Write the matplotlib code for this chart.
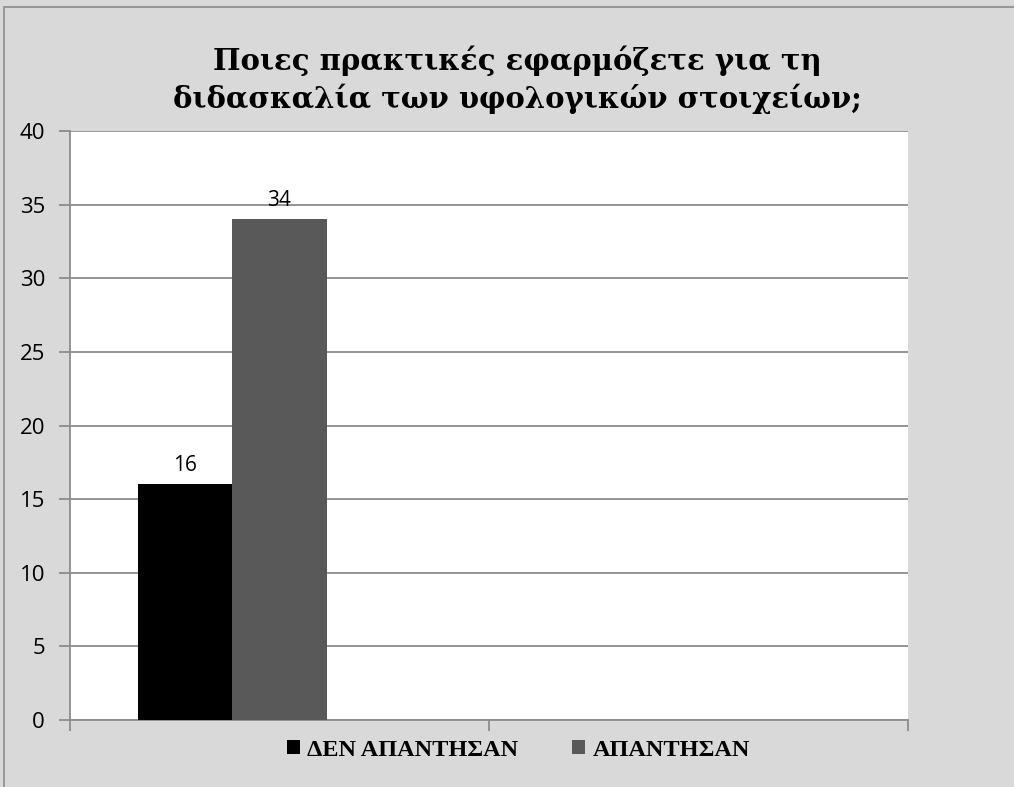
import matplotlib.pyplot as plt
from matplotlib.patches import Rectangle
import numpy as np

# Data
categories = ['', '']
series_names = ['ΔΕΝ ΑΠΑΝΤΗΣΑΝ', 'ΑΠΑΝΤΗΣΑΝ']
not_answered = [16, None]
answered = [34, None]
colors = ['#000000', '#595959']
title = 'Ποιες πρακτικές εφαρμόζετε για τη\nδιδασκαλία των υφολογικών στοιχείων;'

fig = plt.figure(figsize=(10.14, 7.87), dpi=100, facecolor='#d9d9d9')
ax = fig.add_axes([70 / 1014, 1 - 720 / 787, (908 - 70) / 1014, (720 - 131) / 787])
ax.set_facecolor('white')

# outer frame
fig.patches.append(Rectangle((4 / 1014, -0.1), 1.2, (787 - 7) / 787 + 0.1,
                             transform=fig.transFigure, fill=False,
                             edgecolor='#8c8c8c', lw=1.2))

x = np.arange(len(categories))
w = 0.225
# three slots per category (third one is empty in the original)
for i, (vals, name) in enumerate([(not_answered, series_names[0]), (answered, series_names[1])]):
    xs = np.array([xi for xi, v in zip(x, vals) if v is not None], dtype=float)
    vs = [v for v in vals if v is not None]
    bars = ax.bar(xs + (i - 1) * w, vs, width=w, color=colors[i], label=name, zorder=3)
    for b, v in zip(bars, vs):
        ax.text(b.get_x() + b.get_width() / 2, v + 0.6, str(v), ha='center', va='bottom',
                fontsize=15, family='Open Sans', zorder=4)

ax.set_xlim(-0.5, 1.5)
ax.set_ylim(0, 40)
ax.set_yticks(range(0, 41, 5))
ax.set_xticks([-0.5, 0.5, 1.5])
ax.set_xticklabels([])
ax.yaxis.grid(True, color='#8c8c8c', lw=1.3, zorder=0)
for s in ['top', 'right']:
    ax.spines[s].set_visible(False)
for s in ['left', 'bottom']:
    ax.spines[s].set_color('#8c8c8c')
    ax.spines[s].set_linewidth(1.3)
ax.tick_params(axis='both', color='#8c8c8c', length=8, width=1.3, labelsize=16)
ax.tick_params(axis='y', pad=10)
for lab in ax.get_yticklabels():
    lab.set_family('Open Sans')

fig.text(0.51, 1 - 80 / 787, title, ha='center', va='center', fontsize=21,
         fontweight='bold', family='DejaVu Serif', linespacing=1.3)

leg = fig.legend(loc='center', bbox_to_anchor=(0.511, 1 - 750 / 787), ncol=2, frameon=False,
                 prop={'family': 'Liberation Serif', 'weight': 'bold', 'size': 17.5},
                 handlelength=0.55, handleheight=0.55, handletextpad=0.3, columnspacing=2.2)

fig.savefig('out.png', dpi=100, facecolor=fig.get_facecolor())
